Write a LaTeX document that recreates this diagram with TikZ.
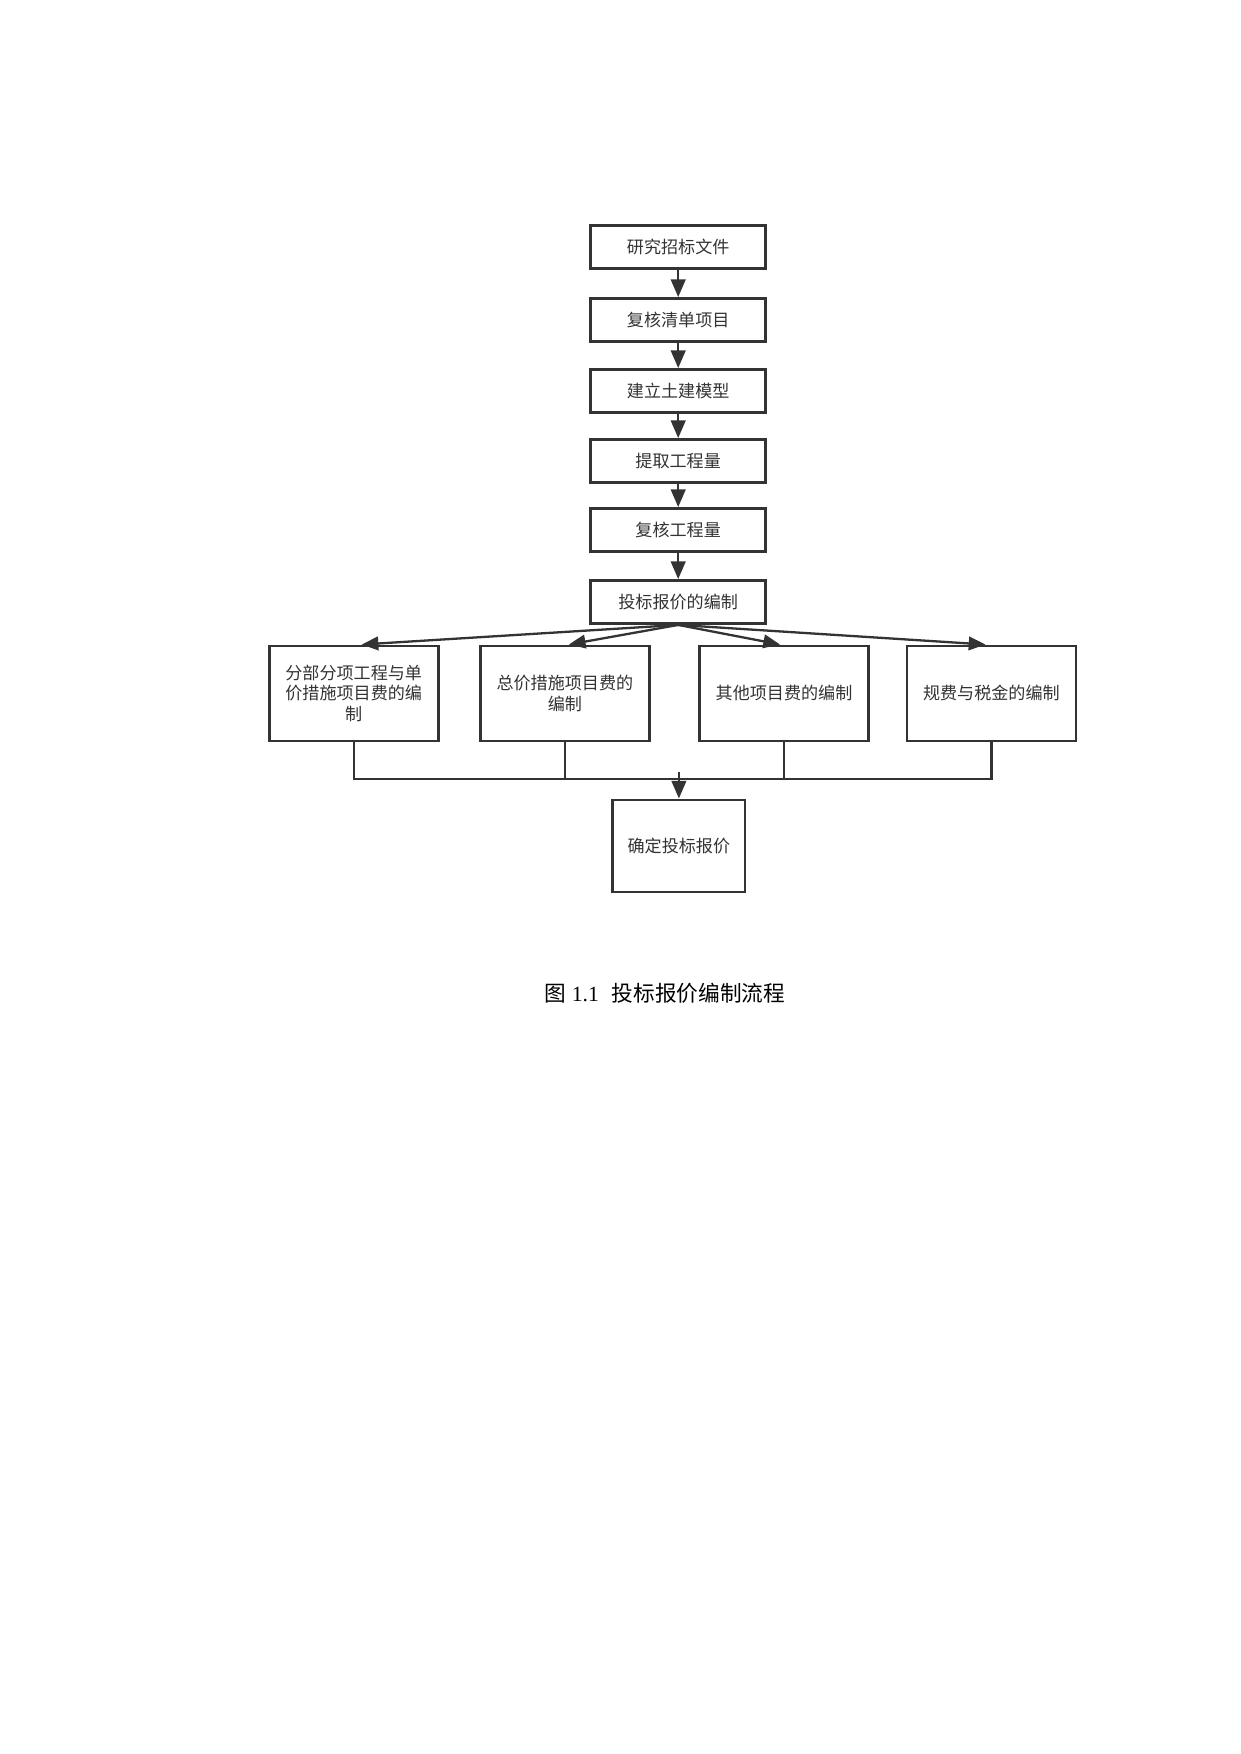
\documentclass[tikz,border=0pt]{standalone}
\usepackage{fontspec}
\setmainfont{Liberation Serif}
\newfontfamily\cjk{Noto Sans CJK SC}
\usetikzlibrary{arrows.meta}
\newlength\pu
\setlength\pu{0.48bp}
\definecolor{linecol}{HTML}{333333}
\definecolor{txtcol}{HTML}{333333}
\tikzset{
  boxstyle/.style={draw=linecol, line width=1.35bp, fill=white, inner sep=0pt,
    align=center, text=txtcol, font=\cjk\fontsize{8.2bp}{10bp}\selectfont},
  stepbox/.style={boxstyle, minimum width=175\pu, minimum height=43\pu},
  rowbox/.style={boxstyle, minimum width=169\pu, minimum height=95\pu},
  endbox/.style={boxstyle, minimum width=132\pu, minimum height=92\pu},
  arr/.style={draw=linecol, line width=1.2bp, -{Triangle[length=8.5bp,width=7bp]}},
  fanarr/.style={draw=linecol, line width=1.1bp, -{Triangle[length=8bp,width=6.5bp]}},
  busline/.style={draw=linecol, line width=1.1bp},
}
\begin{document}
\begin{tikzpicture}[x=0.48bp, y=-0.48bp]
\useasboundingbox (0,0) rectangle (1240,1754);
\node[stepbox] (s1) at (678.2,247) {研究招标文件};
\node[stepbox] (s2) at (678.2,320) {复核清单项目};
\node[stepbox] (s3) at (678.2,391) {建立土建模型};
\node[stepbox] (s4) at (678.2,461) {提取工程量};
\node[stepbox] (s5) at (678.2,530) {复核工程量};
\node[stepbox] (s6) at (678.2,602) {投标报价的编制};
\node[rowbox] (ra) at (353.7,693.4) {分部分项工程与单\\价措施项目费的编\\制};
\node[rowbox] (rb) at (564.9,693.4) {总价措施项目费的\\编制};
\node[rowbox] (rc) at (784,693.4) {其他项目费的编制};
\node[rowbox] (rd) at (991.4,693.4) {规费与税金的编制};
\node[endbox] (fin) at (678.9,845.9) {确定投标报价};
\coordinate (bus) at (678.9,779);
\coordinate (busTop) at (678.9,772);
\draw[arr] (s1) -- (s2);
\draw[arr] (s2) -- (s3);
\draw[arr] (s3) -- (s4);
\draw[arr] (s4) -- (s5);
\draw[arr] (s5) -- (s6);
\draw[fanarr] (s6.south) -- ([xshift=8\pu]ra.north);
\draw[fanarr] (s6.south) -- ([xshift=4\pu]rb.north);
\draw[fanarr] (s6.south) -- ([xshift=-4\pu]rc.north);
\draw[fanarr] (s6.south) -- ([xshift=-6\pu]rd.north);
\draw[busline] (ra.south) -- (ra.south |- bus) -- (rd.south |- bus) -- (rd.south);
\draw[busline] (rb.south) -- (rb.south |- bus);
\draw[busline] (rc.south) -- (rc.south |- bus);
\draw[arr] (busTop) -- (fin.north);
\node[font=\fontsize{10.4bp}{12bp}\selectfont, inner sep=0pt] (cap) at (665,993)
  {{\cjk 图} 1.1\hspace{0.6em}{\cjk 投标报价编制流程}};
\end{tikzpicture}
\end{document}
